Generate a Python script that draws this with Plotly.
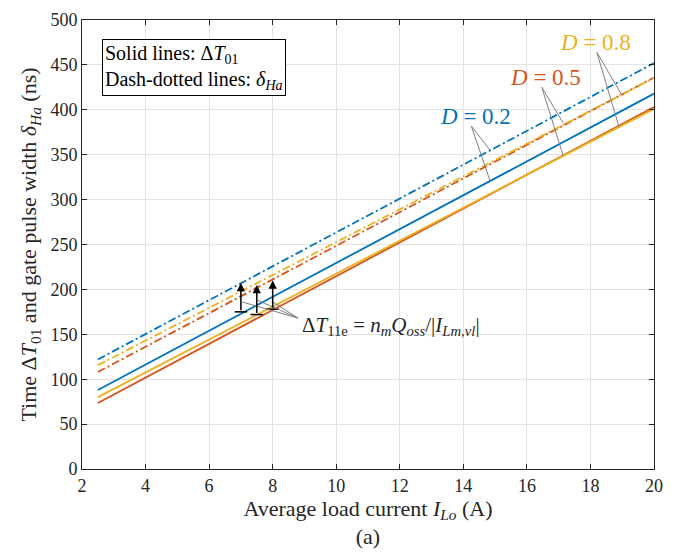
import plotly.graph_objects as go

# load current (A) at the ends of each straight line
current = [2.5, 20]

# solid lines: Delta T01 (ns)
dt01_d02 = [88, 418]
dt01_d05 = [73.5, 403]
dt01_d08 = [80, 401]

# dash-dotted lines: delta_Ha (ns)
dha_d02 = [122, 452]
dha_d05 = [108, 436]
dha_d08 = [115.5, 435.5]

# Delta T11e arrows
arrow_x = [7, 7.5, 8]
arrow_lo = [175, 172, 178]
arrow_hi = [207, 205, 210]

BLUE = "#0072BD"
RED = "#D95319"
YELLOW = "#EDB120"
FONT = "Liberation Serif"
DASHDOT = "8px,3px,2px,3px"
INK = "#262626"

fig = go.Figure()

series = [
    (dt01_d02, BLUE, "solid"),
    (dt01_d05, RED, "solid"),
    (dt01_d08, YELLOW, "solid"),
    (dha_d02, BLUE, DASHDOT),
    (dha_d05, RED, DASHDOT),
    (dha_d08, YELLOW, DASHDOT),
]
for vals, col, dash in series:
    fig.add_trace(go.Scatter(x=current, y=vals, mode="lines",
                             line=dict(color=col, width=1.8, dash=dash),
                             showlegend=False, hoverinfo="skip"))

# little bars at the arrow tails
fig.add_trace(go.Scatter(x=arrow_x, y=arrow_lo, mode="markers",
                         marker=dict(symbol="line-ew", size=9,
                                     line=dict(color="black", width=1.5)),
                         showlegend=False, hoverinfo="skip"))

for xa, lo, hi in zip(arrow_x, arrow_lo, arrow_hi):
    fig.add_annotation(x=xa, y=hi, ax=xa, ay=lo, xref="x", yref="y",
                       axref="x", ayref="y", showarrow=True, arrowhead=2,
                       arrowsize=1.1, arrowwidth=1.5, arrowcolor="black", text="")

# leader lines (gray) from the labels to the curves
leaders = [
    # (x0, y0, x1, y1)
    (8.8, 168, 7.04, 186),
    (8.8, 168, 7.52, 188),
    (8.8, 168, 8.0, 186),
    (14.25, 382, 14.84, 355),
    (14.25, 382, 14.84, 321),
    (16.47, 425, 17.15, 385),
    (16.47, 425, 17.14, 349),
    (18.2, 464, 18.98, 417),
    (18.2, 464, 18.9, 381),
]
for x0, y0, x1, y1 in leaders:
    fig.add_shape(type="line", x0=x0, y0=y0, x1=x1, y1=y1, xref="x", yref="y",
                  line=dict(color="#7f7f7f", width=1))

fig.add_annotation(x=8.86, y=159, xref="x", yref="y", xanchor="left",
                   showarrow=False,
                   text="Δ<i>T</i><sub>11e</sub> = <i>n<sub>m</sub>Q<sub>oss</sub></i>/|<i>I<sub>Lm,vl</sub></i>|",
                   font=dict(family=FONT, size=21, color=INK))

for txt, xa, ya, col in [("<i>D</i> = 0.2", 14.37, 392, BLUE),
                         ("<i>D</i> = 0.5", 16.6, 436.5, RED),
                         ("<i>D</i> = 0.8", 18.17, 475.5, YELLOW)]:
    fig.add_annotation(x=xa, y=ya, xref="x", yref="y", text=txt, showarrow=False,
                       font=dict(family=FONT, size=23, color=col))

# text box
fig.add_annotation(x=0.035, y=0.958, xref="paper", yref="paper",
                   xanchor="left", yanchor="top", align="left", showarrow=False,
                   text="Solid lines: Δ<i>T</i><sub>01</sub><br>Dash-dotted lines: <i>δ<sub>Ha</sub></i>",
                   font=dict(family=FONT, size=20, color="black"),
                   bordercolor="black", borderwidth=1, borderpad=2, bgcolor="white")

axis_common = dict(showline=True, linecolor=INK, linewidth=1, mirror="ticks",
                   ticks="inside", ticklen=5, tickcolor=INK, automargin=False,
                   showgrid=True, gridcolor="#e3e3e3", gridwidth=1, zeroline=False,
                   tickfont=dict(family=FONT, size=18, color=INK))

fig.update_xaxes(range=[2, 20], dtick=2, tick0=2,
                 title=dict(text="Average load current <i>I<sub>Lo</sub></i> (A)<br>(a)",
                            font=dict(family=FONT, size=22, color=INK),
                            standoff=4),
                 **axis_common)
fig.update_yaxes(range=[0, 500], dtick=50,
                 title=dict(text="Time Δ<i>T</i><sub>01</sub> and gate pulse width <i>δ<sub>Ha</sub></i> (ns)",
                            font=dict(family=FONT, size=22, color=INK),
                            standoff=7),
                 **axis_common)

# page body adds an 8px offset, so the figure is a bit smaller than the window
fig.update_layout(width=673, height=546,
                  margin=dict(l=74, r=27, t=12, b=85),
                  plot_bgcolor="white", paper_bgcolor="white")

fig.write_html("out.html")
